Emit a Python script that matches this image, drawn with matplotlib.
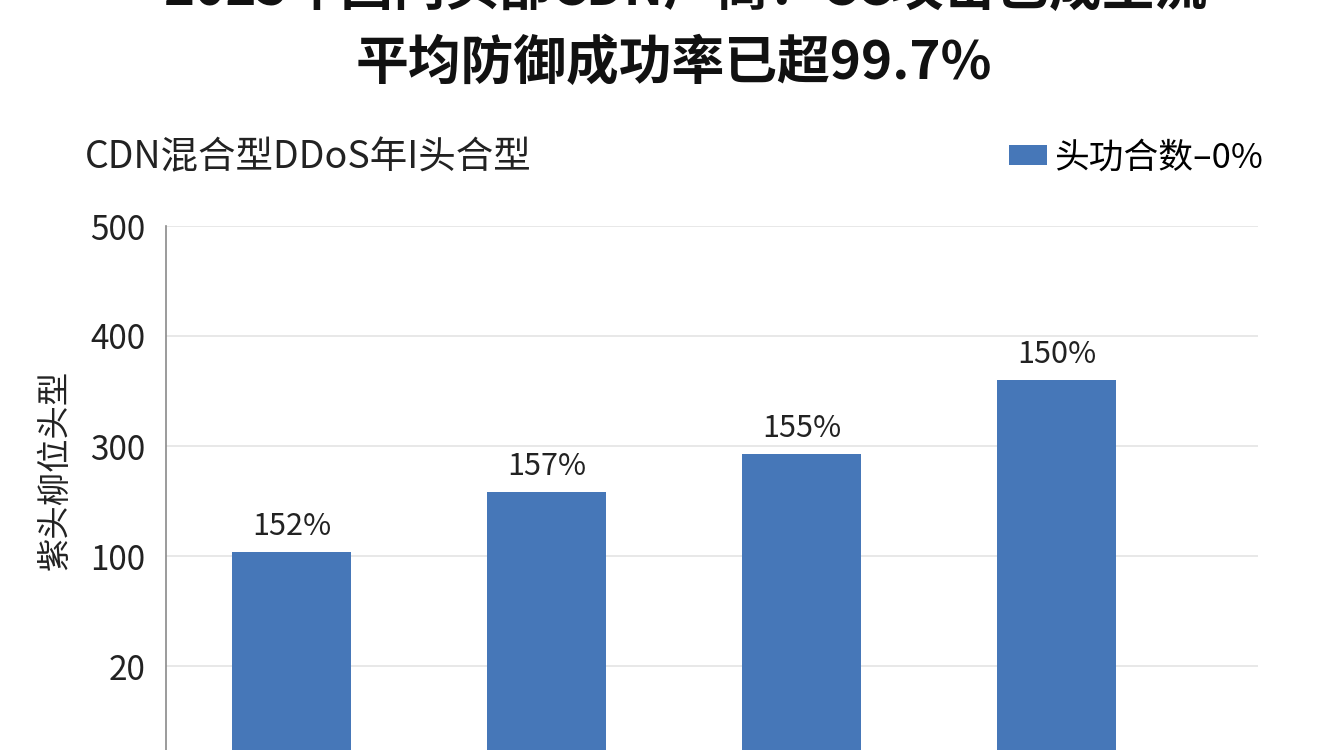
import numpy as np
import matplotlib
matplotlib.use("Agg")
import matplotlib.pyplot as plt

plt.rcParams['font.family'] = ['Noto Sans CJK SC', 'DejaVu Sans']

# dados (eixo y com rótulos não lineares, como no original)
categorias = ['A', 'B', 'C', 'D']
valores = [204, 258, 293, 360]
rotulos_barras = ['152%', '157%', '155%', '150%']
posicoes_ticks = [100, 200, 300, 400, 500]
rotulos_ticks = ['20', '100', '300', '400', '500']

titulo_1 = '2025年国内头部CDN厂商：CC攻击已成主流'
titulo_2 = '平均防御成功率已超99.7%'
subtitulo = 'CDN混合型DDoS年I头合型'
legenda = '头功合数–0%'
rotulo_y = '紫头柳位头型'

cor_barra = '#4677b8'

fig = plt.figure(figsize=(13.44, 7.5), dpi=100)
fig.patch.set_facecolor('white')

# eixo: topo em 226px, zero abaixo da borda da figura (imagem cortada)
ax = fig.add_axes([166 / 1344, -26 / 750, (1258 - 166) / 1344, (750 - 226 + 26) / 750])

x = np.arange(len(categorias))
barras = ax.bar(x, valores, width=0.47, color=cor_barra, zorder=3, label=legenda)

for xi, v, r in zip(x, valores, rotulos_barras):
    ax.annotate(r, (xi, v), xytext=(0, 7), textcoords='offset points',
                ha='center', va='bottom', fontsize=22, color='#222222')

ax.set_xlim(-0.492, 3.79)
ax.set_ylim(0, 500)
ax.set_yticks(posicoes_ticks)
ax.set_yticklabels(rotulos_ticks, fontsize=24, color='#222222')
ax.set_xticks([])
ax.tick_params(axis='y', length=0, pad=15)
ax.grid(axis='y', color='#e4e4e4', linewidth=1.2, zorder=0)
for s in ['top', 'right', 'bottom']:
    ax.spines[s].set_visible(False)
ax.spines['left'].set_color('#8a8a8a')
ax.spines['left'].set_linewidth(1.2)

fig.text(55 / 1344, 1 - 470 / 750, rotulo_y, rotation=90, ha='center', va='center',
         fontsize=24, color='#222222')

# a primeira linha do título aparece cortada no topo, como na referência
fig.text(685 / 1344, 1 + 11 / 750, titulo_1, ha='center', va='center',
         fontsize=38, fontweight='bold', color='#111111')
fig.text(674 / 1344, 1 - 63 / 750, titulo_2, ha='center', va='center',
         fontsize=38, fontweight='bold', color='#111111')
fig.text(85 / 1344, 1 - 158 / 750, subtitulo, ha='left', va='center',
         fontsize=27, color='#222222')

ax.legend(handles=[barras], loc='center right', bbox_to_anchor=(1280 / 1344, 1 - 158 / 750),
          bbox_transform=fig.transFigure, frameon=False, fontsize=25,
          handlelength=1.1, handleheight=0.5, handletextpad=0.2, borderpad=0)

fig.savefig('out.png', dpi=100)
